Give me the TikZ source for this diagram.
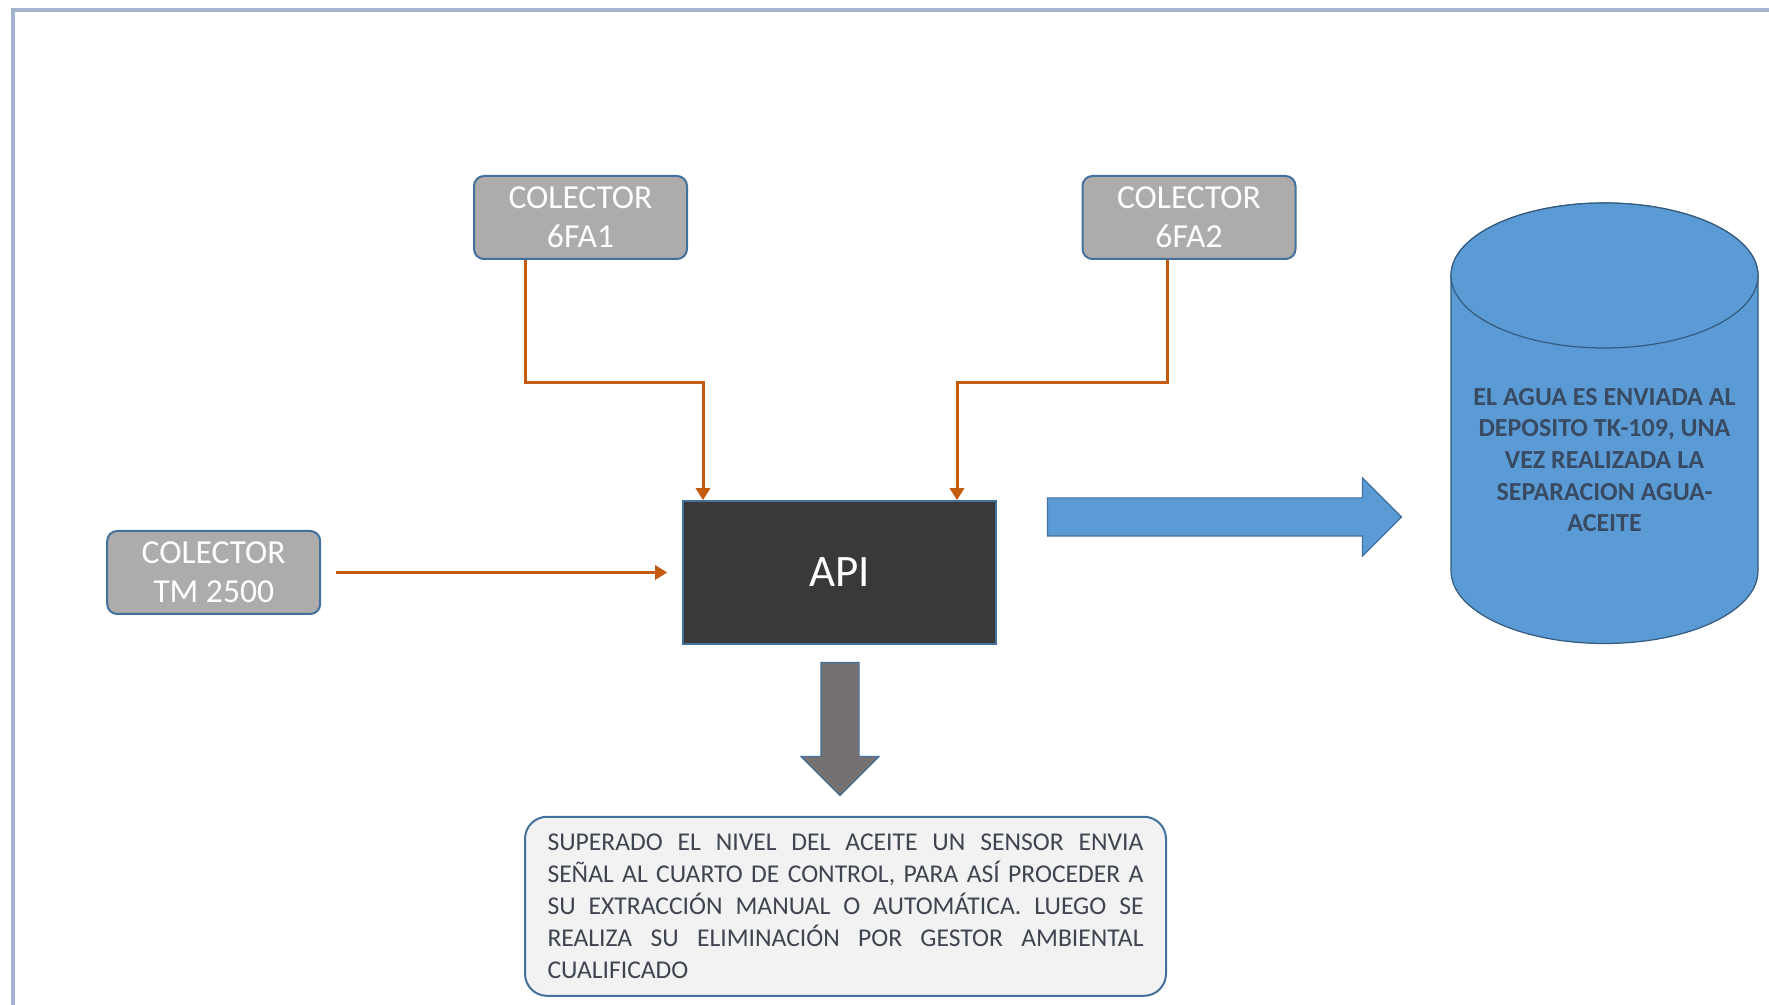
\documentclass[tikz,border=0pt]{standalone}
\usepackage{fontspec}
\setmainfont{Carlito}
\usetikzlibrary{positioning, arrows.meta, shapes.arrows}
\definecolor{boxgray}{HTML}{AEABAB}
\definecolor{apigray}{HTML}{3B3838}
\definecolor{edgeblue}{HTML}{41719C}
\definecolor{waterblue}{HTML}{5B9BD5}
\definecolor{pipeorange}{HTML}{C55A11}
\definecolor{framegray}{HTML}{A3B5CE}
\definecolor{notegray}{HTML}{F2F2F2}
\definecolor{inkgray}{HTML}{3E4450}
\definecolor{tankink}{HTML}{394A63}
\definecolor{outgray}{HTML}{767171}
\newcommand{\notaline}[1]{\makebox[298pt][s]{\spaceskip=0.22em plus 1fil minus 0.1em\relax #1}} % one justified line of the note
\tikzset{x=0.5pt, y=-0.5pt, % one unit is one pixel of the sketch, y grows downwards
collector/.style={ % grey source boxes
draw=edgeblue, line width=1pt, fill=boxgray, rounded corners=5pt,
minimum width=106.5pt, minimum height=41.5pt, inner sep=0pt,
text=white, align=center, font=\fontsize{16.8}{19.5}\selectfont},
separator/.style={ % the API box
draw=edgeblue, line width=0.8pt, fill=apigray,
minimum width=156.5pt, minimum height=71.5pt,
text=white, font=\fontsize{22.5}{27}\selectfont},
note/.style={ % rounded text box at the bottom
draw=edgeblue, line width=1pt, fill=notegray, rounded corners=11pt,
text width=298pt, inner xsep=11.25pt, minimum height=89.5pt,
align=left, text=inkgray, font=\fontsize{12.8}{16}\selectfont},
bigarrow/.style={ % block arrows
single arrow, draw=edgeblue, line width=0.6pt, inner xsep=0pt, inner ysep=9.25pt,
single arrow head extend=10pt, single arrow head indent=0pt},
tank/.style={draw=edgeblue!80!black, line width=0.6pt, fill=waterblue},
pipe/.style={ % orange pipes
draw=pipeorange, line width=1.5pt, ->, >={Triangle[width=7pt,length=6pt]}}}
\begin{document}
\begin{tikzpicture}
    \useasboundingbox (0,0) rectangle (1769,1005);
    \draw[framegray, line width=2pt] (13,1010) -- (13,10) -- (1775,10);

    \node[separator] (api) at (839.5,572.5) {API};
    \node[collector] (c1) at (580.5,217.5) {COLECTOR\\6FA1};
    \node[collector] (c2) at (1189,217.5) {COLECTOR\\6FA2};
    \node[collector, left=180.5pt of api] (tm) {COLECTOR\\TM 2500};
    \node[note, below=85.5pt of api, xshift=3pt] (nota) {\notaline{SUPERADO EL NIVEL DEL ACEITE UN SENSOR ENVIA}\\
        \notaline{SEÑAL AL CUARTO DE CONTROL, PARA ASÍ PROCEDER A}\\
        \notaline{SU EXTRACCIÓN MANUAL O AUTOMÁTICA. LUEGO SE}\\
        \notaline{REALIZA SU ELIMINACIÓN POR GESTOR AMBIENTAL}\\
        CUALIFICADO};

    % tank
    \draw[tank] (1451,275.5) -- (1451,571) arc[start angle=180, end angle=360, x radius=76.75pt, y radius=36.25pt]
        -- (1758,275.5) arc[start angle=0, end angle=180, x radius=76.75pt, y radius=36.25pt] -- cycle;
    \draw[tank] (1604.5,275.5) ellipse[x radius=76.75pt, y radius=36.25pt];
    \node[text=tankink, font=\bfseries\fontsize{13}{15.8}\selectfont, align=center] (tanktxt) at (1604.5,460)
        {EL AGUA ES ENVIADA AL\\DEPOSITO TK-109, UNA\\VEZ REALIZADA LA\\SEPARACION AGUA-\\ACEITE};

    \node[bigarrow, fill=waterblue, minimum height=177pt] (totank) at (1215,517) {};
    \node[bigarrow, fill=outgray, minimum height=66.5pt, rotate=-90] (tonota) at (840,719.5) {};

    \draw[pipe] ([xshift=-27.75pt]c1.south) -- ++(0,-61.5pt) -| ([xshift=-68.25pt]api.north);
    \draw[pipe] ([xshift=-11pt]c2.south) -- ++(0,-61.5pt) -| ([xshift=58.75pt]api.north);
    \draw[pipe, shorten <=7.5pt, shorten >=7.5pt] (tm) -- (api);
\end{tikzpicture}
\end{document}
